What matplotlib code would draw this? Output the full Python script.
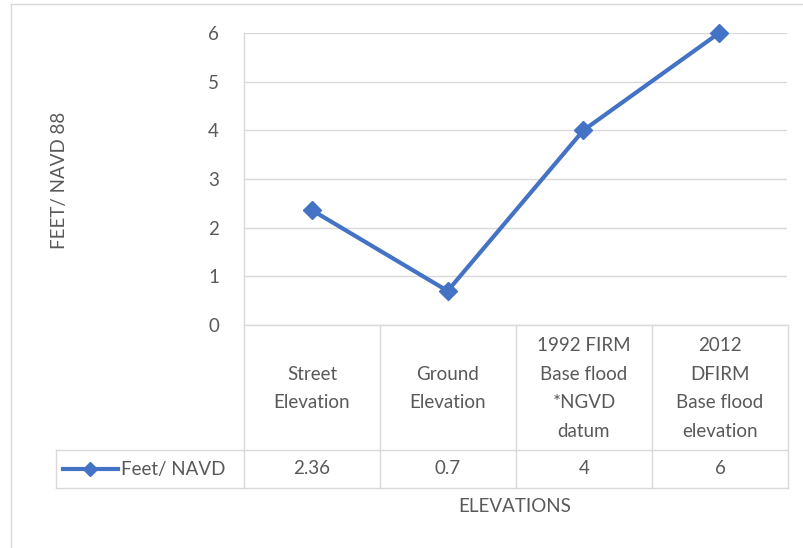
import matplotlib.pyplot as plt
from matplotlib.lines import Line2D
import numpy as np

categories = ["Street\nElevation", "Ground\nElevation",
              "1992 FIRM\nBase flood\n*NGVD\ndatum",
              "2012\nDFIRM\nBase flood\nelevation"]
values = [2.36, 0.7, 4, 6]
value_labels = ["2.36", "0.7", "4", "6"]
series_name = "Feet/ NAVD"
yticks = [0, 1, 2, 3, 4, 5, 6]

W, H = 804, 548
blue = "#4472C4"
grid = "#D9D9D9"
txt = "#595959"
fs = 13.5
plt.rcParams['font.family'] = ['Lato', 'DejaVu Sans']

fig = plt.figure(figsize=(W / 100, H / 100), dpi=100)

def fx(x):
    return x / W

def fy(y):
    return 1 - y / H

def hline(x0, x1, y, **kw):
    fig.add_artist(Line2D([fx(x0), fx(x1)], [fy(y), fy(y)], color=grid, lw=1.0, **kw))

def vline(x, y0, y1, **kw):
    fig.add_artist(Line2D([fx(x), fx(x)], [fy(y0), fy(y1)], color=grid, lw=1.0, **kw))

# chart border (cut off at right/bottom)
hline(11, W, 4)
vline(11, 4, H)

# plot area
left, right, top, bottom = 244, 787, 33, 325
ax = fig.add_axes([fx(left), fy(bottom), fx(right) - fx(left), fy(top) - fy(bottom)])
x = np.arange(len(values))
ax.plot(x, values, color=blue, lw=3, marker="D", markersize=9,
        solid_joinstyle="round", clip_on=False, zorder=3)
ax.set_xlim(-0.5, len(values) - 0.5)
ax.set_ylim(0, 6)
ax.set_yticks(yticks)
ax.set_yticklabels([str(t) for t in yticks], fontsize=fs, color=txt)
ax.tick_params(axis="y", length=0, pad=18)
ax.set_xticks([])
for s in ax.spines.values():
    s.set_visible(False)
ax.grid(axis="y", color=grid, lw=1.0)
ax.set_axisbelow(True)
ax.set_facecolor("none")

# data table
col_w = (788 - 244) / len(values)
cols = [244 + i * col_w for i in range(len(values) + 1)]
row_top, row_mid, row_bot = 325, 450, 488
leg_left = 56

hline(244, 788, row_top)
hline(leg_left, 788, row_mid)
hline(leg_left, 788, row_bot)
vline(cols[0], top, row_bot)
for c in cols[1:]:
    vline(c, row_top, row_bot)
vline(leg_left, row_mid, row_bot)

for i, (cat, vl) in enumerate(zip(categories, value_labels)):
    cx = (cols[i] + cols[i + 1]) / 2
    fig.text(fx(cx), fy(388.5), cat, ha="center", va="center",
             fontsize=fs, color=txt, linespacing=1.85)
    fig.text(fx(cx), fy((row_mid + row_bot) / 2), vl, ha="center", va="center",
             fontsize=fs, color=txt)

# legend key inside table
ly = (row_mid + row_bot) / 2
fig.add_artist(Line2D([fx(63), fx(118)], [fy(ly), fy(ly)], color=blue, lw=3))
fig.add_artist(Line2D([fx(90)], [fy(ly)], color=blue, marker="D", markersize=7, lw=0))
fig.text(fx(121), fy(ly), series_name, ha="left", va="center", fontsize=fs, color=txt)

# axis titles
fig.text(fx(515), fy(507), "ELEVATIONS", ha="center", va="center", fontsize=fs, color=txt)
fig.text(fx(60), fy(180), "FEET/ NAVD 88", ha="center", va="center", rotation=90,
         fontsize=fs, color=txt)

fig.savefig("out.png", dpi=100)
